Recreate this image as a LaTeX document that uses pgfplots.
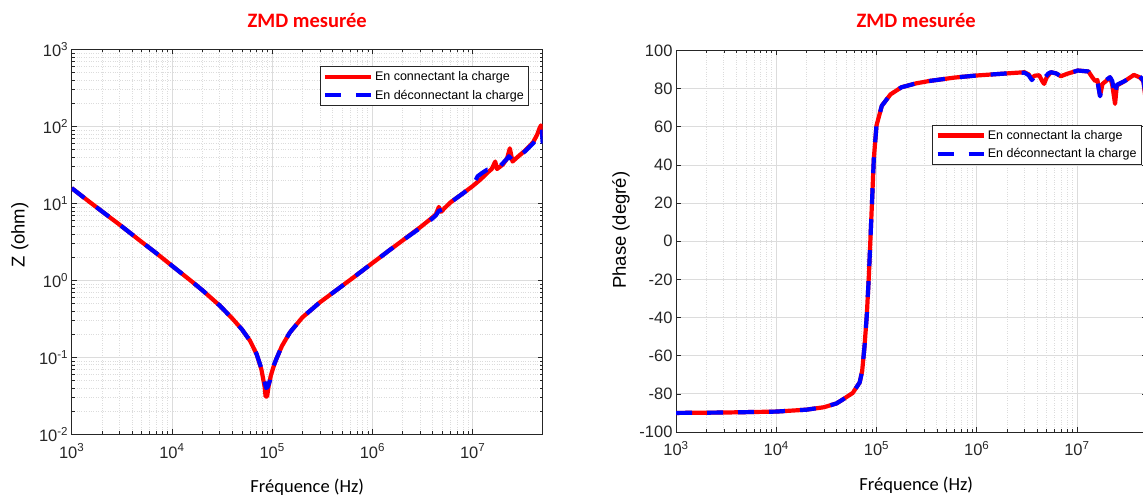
\documentclass[border=0pt]{standalone}
\usepackage{pgfplots}
\pgfplotsset{compat=1.18}
\usepackage{fontspec}
\setmainfont{Liberation Sans}
\newfontfamily\calibri{Carlito}
\definecolor{axc}{HTML}{262626}
\definecolor{gridc}{HTML}{DCDCDC}
\definecolor{mred}{HTML}{FF0000}
\definecolor{mblue}{HTML}{0000FF}

\pgfplotsset{
  mstyle/.style={
    scale only axis,
    axis line style={axc, line width=0.7pt},
    tick style={axc, line width=0.6pt},
    tick align=inside,
    major tick length=5pt, minor tick length=3pt,
    major grid style={gridc, line width=0.8pt},
    minor grid style={gridc, dotted, line width=0.7pt},
    ticklabel style={font=\fontsize{16.5}{18}\selectfont, text=axc},
    xticklabel style={yshift=-6pt},
    xtick={1e3,1e4,1e5,1e6,1e7},
    xticklabels={10\textsuperscript{3},10\textsuperscript{4},10\textsuperscript{5},10\textsuperscript{6},10\textsuperscript{7}},
    title={ZMD mesurée},
    title style={font=\calibri\bfseries\fontsize{20.5}{22}\selectfont, text=mred, anchor=center},
    xlabel={Fréquence (Hz)},
    xlabel style={font=\calibri\fontsize{18.5}{20}\selectfont, text=black},
    ylabel style={font=\fontsize{18.5}{20}\selectfont, text=black},
    legend cell align=left,
    legend style={draw=axc, line width=0.6pt, fill=white,
      font=\fontsize{12.5}{14}\selectfont, inner xsep=3pt, inner ysep=3pt,
      row sep=4pt},
    legend image code/.code={\draw[##1] (0pt,0pt) -- (46pt,0pt);},
    clip=true,
  },
  redline/.style={mred, line width=4.2pt, line join=round},
  blueline/.style={mblue, line width=4.2pt, dash pattern=on 16pt off 15pt, line join=round},
}

\begin{document}
\begin{tikzpicture}
\useasboundingbox (0pt,0pt) rectangle (1143pt,498pt);

% ---------------- Left: impedance ----------------
\begin{axis}[mstyle,
  at={(71.7pt,63.7pt)}, anchor=south west,
  width=471pt, height=384.8pt,
  xmode=log, xmin=1e3, xmax=5e7,
  ymode=log, ymin=1e-2, ymax=1e3,
  grid=both,
  ytick={1e-2,1e-1,1e0,1e1,1e2,1e3},
  yticklabels={10\textsuperscript{-2},10\textsuperscript{-1},10\textsuperscript{0},10\textsuperscript{1},10\textsuperscript{2},10\textsuperscript{3}},
  ylabel={Z (ohm)},
  title style={at={(axis description cs:0.5,1.06)}},
  xlabel style={at={(axis description cs:0.5,-0.138)}, anchor=center},
  ylabel style={at={(axis description cs:-0.11,0.518)}, anchor=center},
  legend style={at={(rel axis cs:0.971,0.957)}, anchor=north east},
]
\addplot[redline] table {
1000 15.8
1500 10.5
2000 7.9
3000 5.3
5000 3.15
7000 2.25
10000 1.55
15000 1.02
20000 0.75
30000 0.47
40000 0.32
50000 0.23
60000 0.165
70000 0.11
78000 0.07
84000 0.042
86000 0.031
89000 0.031
92000 0.042
97000 0.058
103000 0.075
110000 0.095
125000 0.14
150000 0.21
200000 0.33
300000 0.52
500000 0.85
700000 1.18
1000000 1.68
1500000 2.5
2000000 3.3
3000000 4.9
3700000 6.1
4300000 7.2
4600000 9.0
4850000 7.8
5300000 8.8
6000000 10.3
8000000 13.5
10000000 16.8
12000000 20.5
14000000 25
15500000 28
16800000 35
17500000 28
20000000 32
22000000 38
23500000 52
25000000 35
28000000 40
33000000 48
40000000 62
44000000 78
46500000 95
48000000 103
49500000 98
50000000 75
};
\addplot[blueline] table {
1000 15.8
1500 10.5
2000 7.9
3000 5.3
5000 3.15
7000 2.25
10000 1.55
15000 1.02
20000 0.75
30000 0.47
40000 0.32
50000 0.23
60000 0.165
70000 0.11
78000 0.072
84000 0.048
87000 0.04
90000 0.041
95000 0.05
100000 0.07
110000 0.095
125000 0.14
150000 0.21
200000 0.33
300000 0.52
500000 0.85
700000 1.18
1000000 1.68
1500000 2.5
2000000 3.3
3000000 4.8
3600000 5.7
4300000 7.0
4600000 8.0
5300000 8.6
6000000 10.3
8000000 13.5
10000000 16.8
11200000 22.5
12500000 25
14000000 27.5
15500000 27
17000000 30
19000000 31
22000000 38
23000000 41
25000000 36
28000000 40
33000000 47
40000000 60
44000000 70
46500000 85
49000000 92
50000000 60
};
\legend{En connectant la charge, En déconnectant la charge}
\end{axis}

% ---------------- Right: phase ----------------
\begin{axis}[mstyle,
  at={(676pt,66pt)}, anchor=south west,
  width=471pt, height=381.5pt,
  xmode=log, xmin=1e3, xmax=5e7,
  ymin=-100, ymax=100,
  xmajorgrids, xminorgrids, ymajorgrids,
  ytick={-100,-80,-60,-40,-20,0,20,40,60,80,100},
  yticklabels={-100,-80,-60,-40,-20,0,20,40,60,80,100},
  ylabel={Phase (degré)},
  title style={at={(axis description cs:0.51,1.062)}},
  xlabel style={at={(axis description cs:0.51,-0.14)}, anchor=center},
  ylabel style={at={(axis description cs:-0.117,0.529)}, anchor=center},
  legend style={at={(rel axis cs:0.989,0.805)}, anchor=north east},
]
\addplot[redline] table {
1000 -90
3000 -89.8
10000 -89.3
20000 -88.3
30000 -87
40000 -85
46000 -83
58000 -79.5
68000 -74
72000 -68
76000 -55
80000 -39
84000 -18
87000 1
91000 25
94000 43
100000 60.6
113000 71
138000 77
177000 80.7
250000 82.8
335000 84
600000 85.8
1000000 86.9
2440000 88.3
3000000 88.6
3300000 87.5
3500000 85.5
3800000 86.8
4200000 87
4500000 84
4700000 82.5
5000000 86
5500000 88.6
6200000 88
6900000 86.5
8000000 87.8
10200000 89.5
13000000 89
14200000 86
15200000 84
16000000 84.5
17000000 76.4
18000000 82.5
19500000 84
21400000 86
22500000 82
24000000 72
25000000 81.6
30000000 84
37000000 87.2
42000000 86
44000000 85
46000000 84
48000000 76
50000000 70
};
\addplot[blueline] table {
1000 -90
3000 -89.8
10000 -89.3
20000 -88.3
30000 -87
40000 -85
46000 -83
58000 -79.5
68000 -74
72000 -68
76000 -55
80000 -39
84000 -18
87000 1
91000 25
94000 43
100000 60.6
113000 71
138000 77
177000 80.7
250000 82.8
335000 84
600000 85.8
1000000 86.9
2440000 88.3
3000000 88.4
3300000 87
3550000 84.5
3800000 86.5
4200000 87
4500000 85.5
4800000 86
5200000 88
5500000 88.6
6200000 88
6900000 86.5
8000000 87.8
10200000 89.5
13000000 89
14200000 86.5
15200000 85
16000000 84
17000000 76
18000000 82
19500000 84.5
21400000 86
22500000 84
24000000 76
25000000 82
30000000 84
37000000 87.2
42000000 86.5
44000000 85.5
46000000 84
48000000 78
50000000 72
};
\legend{En connectant la charge, En déconnectant la charge}
\end{axis}
\end{tikzpicture}
\end{document}
